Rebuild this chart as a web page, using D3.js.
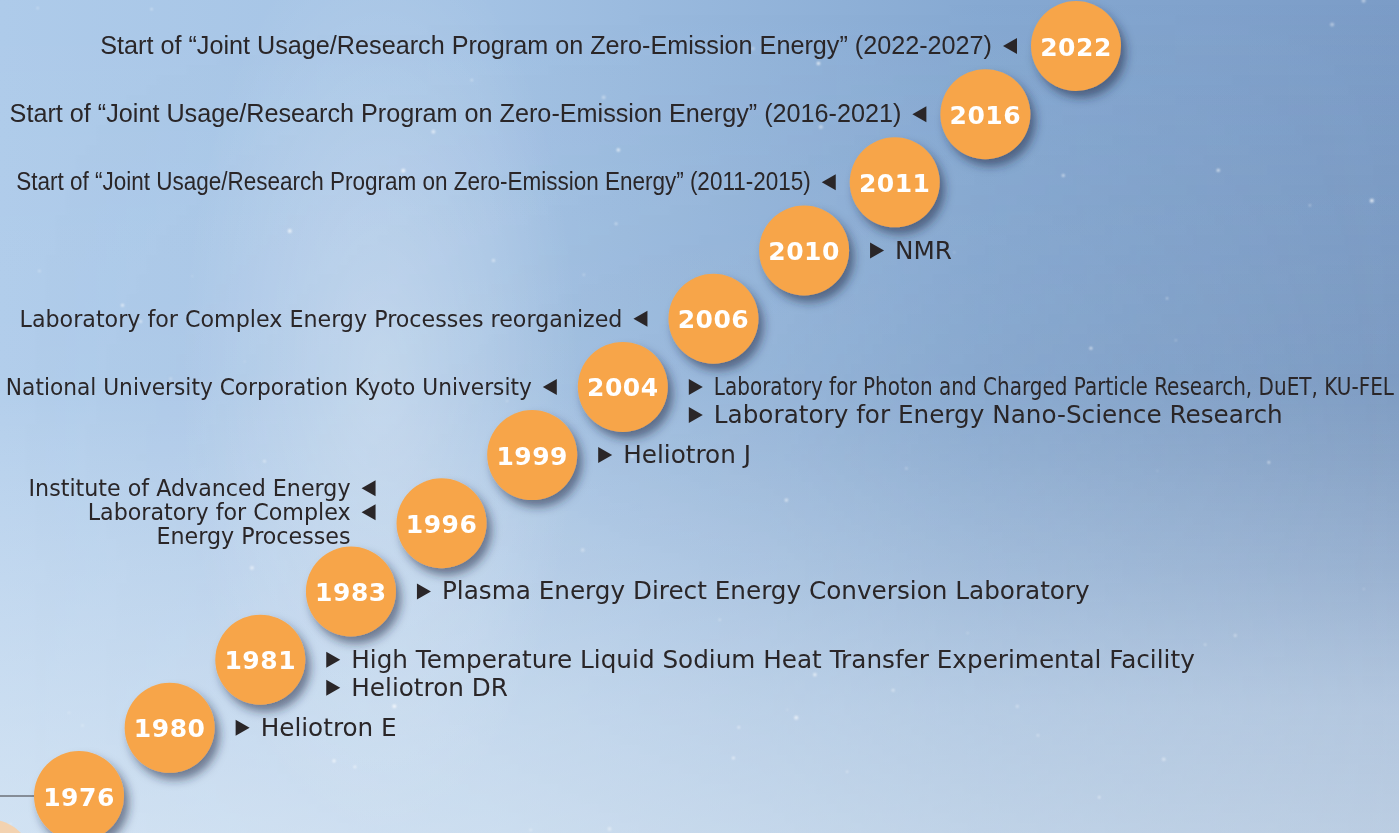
<!DOCTYPE html>
<html>
<head>
<meta charset="utf-8">
<script src="https://cdn.jsdelivr.net/npm/d3@7"></script>
<style>
  html, body { margin: 0; padding: 0; overflow: hidden; }
  svg { display: block; }
</style>
</head>
<body>
<svg id="chart" width="1399" height="833"></svg>
<script>
// milestones, one orange disc per year
const years = [1976, 1980, 1981, 1983, 1996, 1999, 2004, 2006, 2010, 2011, 2016, 2022]

// events written to the left of a disc (arrow points at the disc)
const leftEvents = [
  { year: 2022, lines: ['Start of \u201cJoint Usage/Research Program on Zero-Emission Energy\u201d (2022-2027)'] },
  { year: 2016, lines: ['Start of \u201cJoint Usage/Research Program on Zero-Emission Energy\u201d (2016-2021)'] },
  { year: 2011, lines: ['Start of \u201cJoint Usage/Research Program on Zero-Emission Energy\u201d (2011-2015)'] },
  { year: 2006, lines: ['Laboratory for Complex Energy Processes reorganized'] },
  { year: 2004, lines: ['National University Corporation Kyoto University'] },
  { year: 1996, lines: ['Institute of Advanced Energy'] },
  { year: 1996, lines: ['Laboratory for Complex', 'Energy Processes'] },
]

// events written to the right of a disc
const rightEvents = [
  { year: 2010, lines: ['NMR'] },
  { year: 2004, lines: ['Laboratory for Photon and Charged Particle Research, DuET, KU-FEL'] },
  { year: 2004, lines: ['Laboratory for Energy Nano-Science Research'] },
  { year: 1999, lines: ['Heliotron J'] },
  { year: 1983, lines: ['Plasma Energy Direct Energy Conversion Laboratory'] },
  { year: 1981, lines: ['High Temperature Liquid Sodium Heat Transfer Experimental Facility'] },
  { year: 1981, lines: ['Heliotron DR'] },
  { year: 1980, lines: ['Heliotron E'] },
]

const width = 1399
const height = 833
const r = 45
const ink = '#2a2628'

// which label lines are set in which face
const helvYears = [2022, 2016]
const narrowYears = [2011]
const narrowRight = ['Laboratory for Photon and Charged Particle Research, DuET, KU-FEL']

const svg = d3.select('#chart')
const defs = svg.append('defs')

function grad(id, x2, y2, stops) {
  const g = defs.append('linearGradient').attr('id', id)
    .attr('x1', 0).attr('y1', 0).attr('x2', x2).attr('y2', y2)
  stops.forEach(s => g.append('stop').attr('offset', s[0]).attr('stop-color', s[1]).attr('stop-opacity', s[2]))
}

// sky: light on the left, deeper blue to the right, paler near the bottom
grad('sky', 1, 0, [['0%', '#aecbea', 1], ['35%', '#a3c2e4', 1], ['70%', '#86a9d2', 1], ['100%', '#7b9cc7', 1]])
grad('low', 0, 1, [['0%', '#ffffff', 0], ['45%', '#ffffff', 0.05], ['100%', '#eef5fa', 0.55]])
grad('band', 0, 1, [['0%', '#5f7896', 0], ['55%', '#5f7896', 0.18], ['68%', '#5f7896', 0.12], ['85%', '#c8d8e4', 0.15], ['100%', '#8ea3b8', 0.1]])
grad('bandFade', 1, 0, [['0%', '#fff', 0], ['55%', '#fff', 0.3], ['100%', '#fff', 1]])

const glow = defs.append('radialGradient').attr('id', 'glow')
glow.append('stop').attr('offset', '0%').attr('stop-color', '#fff').attr('stop-opacity', 0.3)
glow.append('stop').attr('offset', '100%').attr('stop-color', '#fff').attr('stop-opacity', 0)

const mask = defs.append('mask').attr('id', 'bandMask')
mask.append('rect').attr('width', width).attr('height', height).attr('fill', 'url(#bandFade)')

const shadow = defs.append('filter').attr('id', 'shadow')
  .attr('x', '-50%').attr('y', '-50%').attr('width', '200%').attr('height', '200%')
shadow.append('feDropShadow').attr('dx', 5).attr('dy', 7).attr('stdDeviation', 5)
  .attr('flood-color', '#1c2a44').attr('flood-opacity', 0.55)

const blur = defs.append('filter').attr('id', 'blur')
blur.append('feGaussianBlur').attr('stdDeviation', 0.8)

svg.append('rect').attr('width', width).attr('height', height).attr('fill', 'url(#sky)')
svg.append('rect').attr('width', width).attr('height', height).attr('fill', 'url(#band)').attr('mask', 'url(#bandMask)')
svg.append('rect').attr('width', width).attr('height', height).attr('fill', 'url(#low)')
svg.append('ellipse').attr('cx', 380).attr('cy', 380).attr('rx', 200).attr('ry', 460).attr('fill', 'url(#glow)')

// faint stars, seeded so every render is the same
const rnd = d3.randomLcg(7)
const stars = d3.range(70).map(() => ({ x: rnd() * width, y: rnd() * height, s: 0.6 + rnd() * 1.4, o: 0.35 + rnd() * 0.55 }))
svg.append('g').attr('filter', 'url(#blur)')
  .selectAll('circle').data(stars).join('circle')
  .attr('cx', d => d.x).attr('cy', d => d.y).attr('r', d => d.s)
  .attr('fill', '#fff').attr('opacity', d => d.o)

const x = d3.scaleLinear().domain([0, years.length - 1]).range([79, 1076])
const y = d3.scaleLinear().domain([0, years.length - 1]).range([796, 46])
const cx = yr => x(years.indexOf(yr))
const cy = yr => y(years.indexOf(yr))

// lead-in line and the faded disc before the first year
svg.append('line')
  .attr('x1', 0).attr('x2', cx(years[0]) - r)
  .attr('y1', cy(years[0])).attr('y2', cy(years[0]))
  .attr('stroke', '#6d7079').attr('stroke-width', 1.5)
svg.append('circle')
  .attr('cx', x(-1)).attr('cy', y(-1)).attr('r', r)
  .attr('fill', '#f9cfa3').attr('opacity', 0.85)

const disc = svg.append('g')
  .selectAll('g')
  .data(years)
  .join('g')
  .attr('transform', d => 'translate(' + cx(d) + ',' + cy(d) + ')')

disc.append('circle')
  .attr('r', r)
  .attr('fill', '#f7a548')
  .attr('filter', 'url(#shadow)')

disc.append('text')
  .text(d => d)
  .attr('text-anchor', 'middle')
  .attr('dy', 9.5)
  .attr('fill', '#fff')
  .attr('font-family', 'DejaVu Sans')
  .attr('font-weight', 'bold')
  .attr('font-size', 25)
  .attr('letter-spacing', 0.5)

function fontOf(text, yr, side) {
  if (side === 'left' && helvYears.includes(yr)) return { family: 'Liberation Sans', size: 25.2, sx: 1 }
  if (side === 'left' && narrowYears.includes(yr)) return { family: 'Liberation Sans', size: 25, sx: 0.9 }
  if (side === 'left') return { family: 'DejaVu Sans', size: 22.2, sx: 1 }
  if (narrowRight.includes(text)) return { family: 'DejaVu Sans', size: 24.7, sx: 0.81 }
  return { family: 'DejaVu Sans', size: 24.7, sx: 1 }
}

function tri(g, tx, ty, dir) {
  const w = 14, h = 16
  const pts = dir < 0
    ? [[tx, ty], [tx + w, ty - h / 2], [tx + w, ty + h / 2]]
    : [[tx + w, ty], [tx, ty - h / 2], [tx, ty + h / 2]]
  g.append('path').attr('d', d3.line()(pts) + 'Z').attr('fill', ink)
}

function drawLine(g, text, tx, ty, anchor, f) {
  const t = g.append('text')
    .text(text)
    .attr('fill', ink)
    .attr('font-family', f.family)
    .attr('font-size', f.size)
    .attr('text-anchor', anchor)
  // keep long lines inside the page: squeeze horizontally if needed
  let sx = f.sx
  const w = t.node().getComputedTextLength() * sx
  if (anchor === 'end' && tx - w < 6) sx = sx * (tx - 6) / w
  t.attr('transform', 'translate(' + tx + ',' + (ty + 8) + ') scale(' + sx + ',1)')
}

const labels = svg.append('g')

// left side: stack per year, arrow to the right of the first line of each event
d3.groups(leftEvents, d => d.year).forEach(([yr, evs]) => {
  const lh = 24
  const n = d3.sum(evs, e => e.lines.length)
  let ly = cy(yr) - (n - 1) * lh / 2 - (n - 1) * 5.5
  const triX = cx(yr) - r - (yr > 2010 ? 14 : 21) - 14
  evs.forEach(e => {
    e.lines.forEach((ln, i) => {
      if (i === 0) tri(labels, triX, ly, -1)
      drawLine(labels, ln, triX - 11, ly, 'end', fontOf(ln, yr, 'left'))
      ly += lh
    })
  })
})

// right side
d3.groups(rightEvents, d => d.year).forEach(([yr, evs]) => {
  const lh = 28
  let ly = cy(yr)
  const triX = cx(yr) + r + 21
  evs.forEach(e => {
    e.lines.forEach((ln, i) => {
      if (i === 0) tri(labels, triX, ly, 1)
      drawLine(labels, ln, triX + 25, ly, 'start', fontOf(ln, yr, 'right'))
      ly += lh
    })
  })
})
</script>
</body>
</html>
